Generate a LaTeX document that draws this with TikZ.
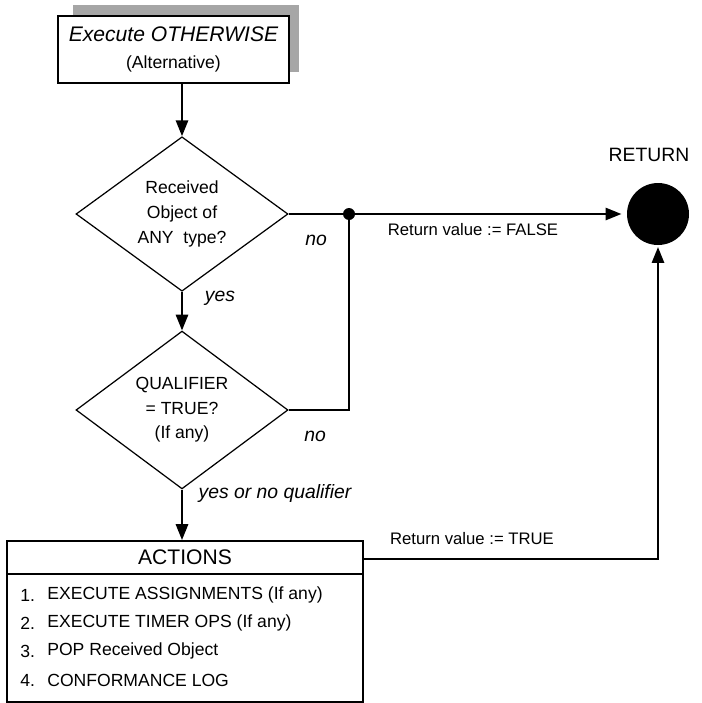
\documentclass[tikz,border=0pt]{standalone}
\usepackage{fontspec}
\setmainfont{Liberation Sans}
\usetikzlibrary{shapes.geometric,arrows.meta,calc}
\def\pu{0.02cm}
\begin{document}
\begin{tikzpicture}[x=0.02cm,y=-0.02cm,
  line/.style={line width=1.1pt},
  arr/.style={line width=1.1pt, -{Triangle[length=9pt,width=7pt]}},
  box/.style={draw, line width=1.1pt, fill=white, inner sep=0pt},
  dec/.style={draw, diamond, line width=0.7pt, inner sep=0pt, minimum width=212*\pu, minimum height=136*\pu, align=center, font=\fontsize{10}{14}\selectfont},
  lbl/.style={font=\fontsize{11}{13}\selectfont\itshape, inner sep=0pt},
  rv/.style={font=\fontsize{9.5}{11}\selectfont, inner sep=0pt},
  item/.style={font=\fontsize{10}{12}\selectfont, inner sep=0pt, anchor=west}
]
\useasboundingbox (0,0) rectangle (702,703);
% shadow of start box
\fill[black!35] (73,5) rectangle (299,72);
\node[box, minimum width=231*\pu, minimum height=67*\pu, align=center] (start) at (173.5,49.5)
  {{\fontsize{12}{14}\selectfont\itshape Execute OTHERWISE}\\[3pt]{\fontsize{10}{12}\selectfont (Alternative)}};
\node[dec] (d1) at (182,214) {Received\\Object of\\ANY\ \ type?};
\node[dec] (d2) at (182,410) {QUALIFIER\\= TRUE?\\(If any)};
\node[circle, fill, inner sep=0pt, minimum size=12*\pu] (j) at (349,214) {};
\node[circle, fill, inner sep=0pt, minimum size=62*\pu] (ret) at (658,214) {};
\node[font=\fontsize{11}{13}\selectfont, inner sep=0pt] (rettxt) at (649,155) {RETURN};
% actions box
\node[box, minimum width=356*\pu, minimum height=161*\pu] (act) at (185,621.5) {};
\draw[line] ($(act.north west)+(0,34)$) -- ($(act.north east)+(0,34)$);
\node[font=\fontsize{12}{14}\selectfont, inner sep=0pt] (acttitle) at (185,557) {ACTIONS};
\node[item] (n1) at (20,595) {1.};
\node[item] (t1) at (47,595) {EXECUTE ASSIGNMENTS (If any)};
\node[item] (n2) at (20,623) {2.};
\node[item] (t2) at (47,623) {EXECUTE TIMER OPS (If any)};
\node[item] (n3) at (20,651) {3.};
\node[item] (t3) at (47,651) {POP Received Object};
\node[item] (n4) at (20,680) {4.};
\node[item] (t4) at (47,680) {CONFORMANCE LOG};
% connectors
\draw[arr] (d1.north |- start.south) -- (d1.north);
\draw[arr] (d1.south) -- (d2.north);
\draw[arr] (d2.south) -- (d2.south |- act.north);
\draw[line] (d1.east) -- (j.center);
\draw[arr, shorten >=3pt] (j.center) -- (ret);
\draw[line] (d2.east) -| (j.center);
\draw[arr, shorten >=1pt] ($(act.north east)+(0,19)$) -| (ret.south);
% labels
\node[lbl] (no1) at (316,240) {no};
\node[lbl] (no2) at (315,436) {no};
\node[lbl] (yes) at (220,298) {yes};
\node[lbl] (yesq) at (275,493) {yes or no qualifier};
\node[rv] (rvf) at (473,230) {Return value := FALSE};
\node[rv] (rvt) at (472,539) {Return value := TRUE};
\end{tikzpicture}
\end{document}
